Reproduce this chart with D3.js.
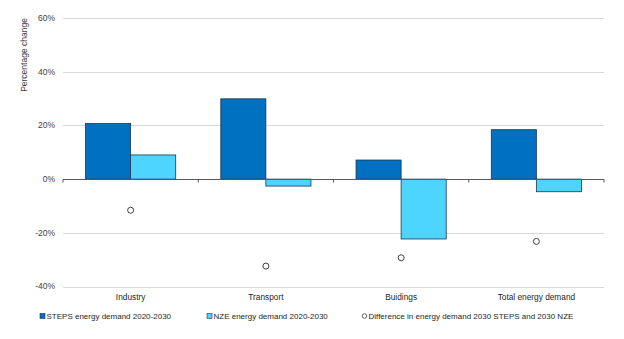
<!DOCTYPE html>
<html>
<head>
<meta charset="utf-8">
<script src="https://cdn.jsdelivr.net/npm/d3@7"></script>
<style>
  body { margin: 0; background: #fff; }
  svg { font-family: "Liberation Sans", Arial, sans-serif; }
</style>
</head>
<body>
<div id="chart"></div>
<script>
// data
const categories = ["Industry", "Transport", "Buidings", "Total energy demand"];
const steps = [20.7, 29.9, 7.1, 18.4];
const nze = [9.0, -2.6, -22.3, -4.7];
const diff = [-11.6, -32.4, -29.3, -23.2];
const yTicks = [-40, -20, 0, 20, 40, 60];
const legendLabels = ["STEPS energy demand 2020-2030", "NZE energy demand 2020-2030", "Difference in energy demand 2030 STEPS and 2030 NZE"];

const width = 624, height = 339;
const margin = {top: 18, right: 20, bottom: 53, left: 63};

const svg = d3.select("#chart").append("svg")
  .attr("width", width)
  .attr("height", height);

const x = d3.scaleBand()
  .domain(categories)
  .range([margin.left, width - margin.right])
  .paddingInner(0)
  .paddingOuter(0);

const y = d3.scaleLinear()
  .domain([-40, 60])
  .range([height - margin.bottom + 0.5, margin.top]);

const sub = d3.scaleBand()
  .domain(["steps", "nze"])
  .range([x.bandwidth() / 6, x.bandwidth() * 5 / 6]);

// gridlines
svg.append("g")
  .selectAll("line")
  .data(yTicks.filter(d => d !== 0))
  .join("line")
  .attr("x1", margin.left)
  .attr("x2", width - margin.right)
  .attr("y1", d => Math.round(y(d)) + 0.5)
  .attr("y2", d => Math.round(y(d)) + 0.5)
  .attr("stroke", "#d9d9d9")
  .attr("stroke-width", 1);

// y tick labels
svg.append("g")
  .selectAll("text")
  .data(yTicks)
  .join("text")
  .attr("x", margin.left - 8)
  .attr("y", d => y(d))
  .attr("dy", "0.35em")
  .attr("text-anchor", "end")
  .attr("font-size", 8.5)
  .attr("fill", "#404040")
  .text(d => d + "%");

svg.append("text")
  .attr("transform", `translate(27, ${55}) rotate(-90)`)
  .attr("text-anchor", "middle")
  .attr("font-size", 8.5)
  .attr("fill", "#404040")
  .text("Percentage change");

// bars
const groups = svg.append("g")
  .selectAll("g")
  .data(categories)
  .join("g")
  .attr("transform", d => `translate(${x(d)},0)`);

groups.append("rect")
  .attr("x", sub("steps"))
  .attr("width", sub.bandwidth())
  .attr("y", (d, i) => y(Math.max(0, steps[i])))
  .attr("height", (d, i) => Math.abs(y(steps[i]) - y(0)))
  .attr("fill", "#0070c0")
  .attr("stroke", "#1b3550")
  .attr("stroke-width", 0.8);

groups.append("rect")
  .attr("x", sub("nze"))
  .attr("width", sub.bandwidth())
  .attr("y", (d, i) => y(Math.max(0, nze[i])))
  .attr("height", (d, i) => Math.abs(y(nze[i]) - y(0)))
  .attr("fill", "#4dd5ff")
  .attr("stroke", "#1b3550")
  .attr("stroke-width", 0.8);

// zero axis with ticks
const zeroY = Math.round(y(0)) + 0.5;
svg.append("line")
  .attr("x1", margin.left)
  .attr("x2", width - margin.right)
  .attr("y1", zeroY)
  .attr("y2", zeroY)
  .attr("stroke", "#595959")
  .attr("stroke-width", 1);

svg.append("g")
  .selectAll("line")
  .data(categories.map(c => x(c)).concat([x.range()[1]]))
  .join("line")
  .attr("x1", d => d)
  .attr("x2", d => d)
  .attr("y1", zeroY)
  .attr("y2", zeroY + 3)
  .attr("stroke", "#595959");

// difference markers
groups.append("circle")
  .attr("cx", x.bandwidth() / 2)
  .attr("cy", (d, i) => y(diff[i]))
  .attr("r", 3)
  .attr("fill", "#fff")
  .attr("stroke", "#404040")
  .attr("stroke-width", 1);

// category labels
groups.append("text")
  .attr("x", x.bandwidth() / 2)
  .attr("y", height - margin.bottom + 14)
  .attr("text-anchor", "middle")
  .attr("font-size", 8.3)
  .attr("fill", "#262626")
  .text(d => d);

// legend
const legendX = [40, 207, 362];
const legend = svg.append("g")
  .selectAll("g")
  .data(legendLabels)
  .join("g")
  .attr("transform", (d, i) => `translate(${legendX[i]}, 316)`);

legend.filter((d, i) => i < 2).append("rect")
  .attr("x", 0)
  .attr("y", -2.5)
  .attr("width", 5)
  .attr("height", 5)
  .attr("fill", (d, i) => i === 0 ? "#0070c0" : "#4dd5ff")
  .attr("stroke", "#1b3550")
  .attr("stroke-width", 0.6);

legend.filter((d, i) => i === 2).append("circle")
  .attr("cx", 2.5)
  .attr("cy", 0)
  .attr("r", 2.3)
  .attr("fill", "#fff")
  .attr("stroke", "#404040")
  .attr("stroke-width", 0.8);

legend.append("text")
  .attr("x", 6.5)
  .attr("dy", "0.35em")
  .attr("font-size", 8)
  .attr("fill", "#262626")
  .text(d => d);
</script>
</body>
</html>
